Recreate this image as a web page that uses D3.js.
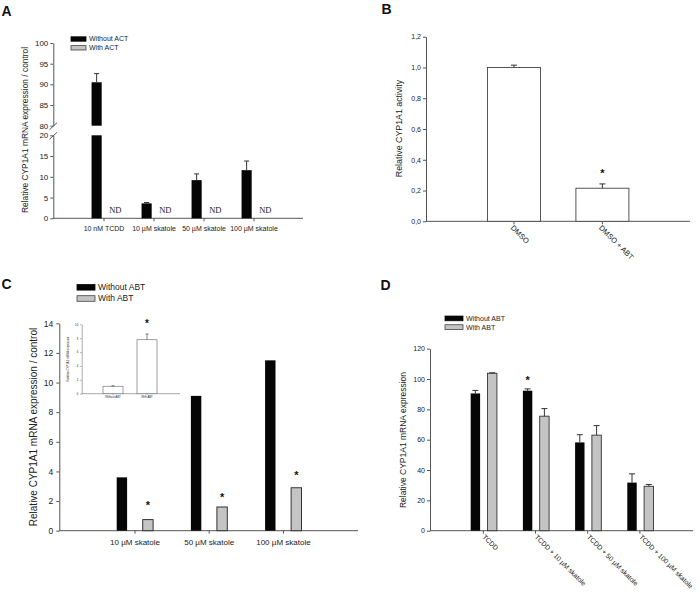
<!DOCTYPE html>
<html><head><meta charset="utf-8">
<script src="https://cdn.jsdelivr.net/npm/d3@7/dist/d3.min.js"></script>
<style>body{margin:0;background:#fff}</style>
</head><body>
<svg id="fig" width="700" height="597"></svg>
<script>
// ---------------- DATA ----------------
// Panel A
const aCategories = ["10 nM TCDD", "10 µM skatole", "50 µM skatole", "100 µM skatole"];
const aSeries = ["Without ACT", "With ACT"];
const aWithout = [90.5, 3.6, 9.2, 11.6];
const aWithoutErr = [2.1, 0.2, 1.5, 2.2];
const aWithLabel = ["ND", "ND", "ND", "ND"];
const aTicksLow = [0, 5, 10, 15, 20];
const aTicksHigh = [80, 85, 90, 95, 100];
// Panel B
const bCategories = ["DMSO", "DMSO + ABT"];
const bValues = [1.0, 0.215];
const bErr = [0.015, 0.028];
const bSig = [false, true];
const bTicks = [0, 0.2, 0.4, 0.6, 0.8, 1.0, 1.2];
// Panel C
const cCategories = ["10 µM skatole", "50 µM skatole", "100 µM skatole"];
const cSeries = ["Without ABT", "With ABT"];
const cWithout = [3.6, 9.1, 11.5];
const cWith = [0.75, 1.6, 2.9];
const cStarAt = [1.9, 2.4, 3.9];
const cTicks = [0, 2, 4, 6, 8, 10, 12, 14];
// Panel C inset
const iCategories = ["Without ABT", "With ABT"];
const iValues = [1.07, 7.78];
const iErr = [0.08, 0.82];
const iSig = [false, true];
const iTicks = [0, 2, 4, 6, 8, 10];
// Panel D
const dCategories = ["TCDD", "TCDD + 10 µM skatole", "TCDD + 50 µM skatole", "TCDD + 100 µM skatole"];
const dSeries = ["Without ABT", "With ABT"];
const dWithout = [90.5, 92.3, 58.2, 31.7];
const dWithoutErr = [2.0, 1.2, 5.1, 5.8];
const dWith = [103.8, 75.5, 63.0, 29.3];
const dWithErr = [0.3, 5.0, 6.3, 1.2];
const dWithoutSig = [false, true, false, false];
const dTicks = [0, 20, 40, 60, 80, 100, 120];

// ---------------- STYLE ----------------
const FONT = '"Liberation Sans", Arial, Helvetica, sans-serif';
const AXIS = "#555";
const TEXT = "#222";
const BLACK = "#050505";
const GREY = "#c4c4c4";

const svg = d3.select("#fig");
svg.append("rect").attr("width", 700).attr("height", 597).attr("fill", "#fff");

function styleAxis(g, fs, sw) {
  g.selectAll("path, line").attr("stroke", AXIS).attr("stroke-width", sw || 1);
  g.selectAll("text").attr("font-family", FONT).attr("font-size", fs).attr("fill", TEXT);
}
function panelLabel(t, x, y) {
  svg.append("text").attr("x", x).attr("y", y).text(t)
    .attr("font-family", FONT).attr("font-weight", "bold").attr("font-size", 14).attr("fill", "#111");
}
function yLabel(g, t, x, y, fs) {
  g.append("text").attr("transform", `translate(${x},${y}) rotate(-90)`)
    .attr("text-anchor", "middle").attr("dy", "0.35em").text(t)
    .attr("font-family", FONT).attr("font-size", fs).attr("fill", TEXT);
}
function errBar(g, x, y0, y1, half, sw) {
  g.append("line").attr("x1", x).attr("x2", x).attr("y1", y0).attr("y2", y1).attr("stroke", "#333").attr("stroke-width", sw || 1);
  g.append("line").attr("x1", x - half).attr("x2", x + half).attr("y1", y1).attr("y2", y1).attr("stroke", "#333").attr("stroke-width", sw || 1);
}
function star(g, x, cy, fs) {
  g.append("text").attr("x", x).attr("y", cy + fs * 0.57).attr("text-anchor", "middle").text("*")
    .attr("font-family", FONT).attr("font-weight", "bold").attr("font-size", fs).attr("fill", "#111");
}
function legend(g, x, y, gap, w, h, labels, fs) {
  labels.forEach((lab, i) => {
    g.append("rect").attr("x", x).attr("y", y + i * gap - h / 2).attr("width", w).attr("height", h)
      .attr("fill", i === 0 ? BLACK : GREY).attr("stroke", i === 0 ? BLACK : "#444").attr("stroke-width", 0.8);
    g.append("text").attr("x", x + w + 3).attr("y", y + i * gap).attr("dy", "0.35em").text(lab)
      .attr("font-family", FONT).attr("font-size", fs).attr("fill", TEXT);
  });
}

// ---------------- PANEL A ----------------
panelLabel("A", 1.5, 16);
const gA = svg.append("g");
const aX = d3.scaleBand().domain(aCategories).range([79, 279]);
const aSub = d3.scaleBand().domain(aSeries).range([-13, 17]).paddingInner(0.4);
const aYLow = d3.scaleLinear().domain([0, 20]).range([218.3, 135.3]);
const aYHigh = d3.scaleLinear().domain([80, 100]).range([125.7, 43]);
const aBase = aYLow(0);

const axALow = gA.append("g").attr("transform", "translate(53.3,0)")
  .call(d3.axisLeft(aYLow).tickValues(aTicksLow).tickSize(3).tickPadding(2).tickSizeOuter(0));
styleAxis(axALow, 8);
const axAHigh = gA.append("g").attr("transform", "translate(53.3,0)")
  .call(d3.axisLeft(aYHigh).tickValues(aTicksHigh).tickSize(3).tickPadding(2).tickSizeOuter(0));
styleAxis(axAHigh, 8);
// break marks
[[aYHigh(80) + 4, aYHigh(80) - 3], [aYLow(20) + 4, aYLow(20) - 3]].forEach(([ya, yb]) => {
  gA.append("line").attr("x1", 49.5).attr("x2", 57).attr("y1", ya).attr("y2", yb).attr("stroke", AXIS);
});
gA.append("line").attr("x1", 53.3).attr("x2", 303).attr("y1", aBase).attr("y2", aBase).attr("stroke", AXIS);
const axAX = gA.append("g").attr("transform", `translate(0,${aBase})`)
  .call(d3.axisBottom(aX).tickSize(3).tickPadding(5).tickSizeOuter(0));
axAX.select(".domain").remove();
styleAxis(axAX, 7);
const aBw = aSub.bandwidth() * 0.9;
aCategories.forEach((c, i) => {
  const cx = aX(c) + aX.bandwidth() / 2;
  const bx = cx + aSub(aSeries[0]) + aSub.bandwidth() / 2;
  const v = aWithout[i];
  gA.append("rect").attr("x", bx - aBw / 2).attr("width", aBw)
    .attr("y", aYLow(Math.min(v, 20))).attr("height", aBase - aYLow(Math.min(v, 20))).attr("fill", BLACK);
  if (v > 80) {
    gA.append("rect").attr("x", bx - aBw / 2).attr("width", aBw)
      .attr("y", aYHigh(v)).attr("height", aYHigh(80) - aYHigh(v)).attr("fill", BLACK);
    errBar(gA, bx, aYHigh(v), aYHigh(v + aWithoutErr[i]), 2.5);
  } else {
    errBar(gA, bx, aYLow(v), aYLow(v + aWithoutErr[i]), 2.5);
  }
  const nx = cx + aSub(aSeries[1]) + aSub.bandwidth() / 2;
  gA.append("text").attr("x", nx).attr("y", aYLow(2.0)).attr("dy", "0.35em").attr("text-anchor", "middle")
    .text(aWithLabel[i]).attr("font-family", '"Liberation Serif", "Times New Roman", serif')
    .attr("font-size", 8.5).attr("fill", TEXT);
});
yLabel(gA, "Relative CYP1A1 mRNA expression / control", 25, 130, 8.4);
legend(gA, 71, 39, 8.8, 15, 4.4, aSeries, 7);

// ---------------- PANEL B ----------------
panelLabel("B", 381.5, 14);
const gB = svg.append("g");
const bX = d3.scaleBand().domain(bCategories).range([469.8, 646.6]);
const bY = d3.scaleLinear().domain([0, 1.2]).range([221.3, 36.7]);
const axBY = gB.append("g").attr("transform", "translate(426,0)")
  .call(d3.axisLeft(bY).tickValues(bTicks).tickSize(3).tickPadding(2).tickSizeOuter(0)
    .tickFormat(d => d3.format(".1f")(d).replace(".", ",")));
styleAxis(axBY, 7);
gB.append("line").attr("x1", 426).attr("x2", 690).attr("y1", bY(0)).attr("y2", bY(0)).attr("stroke", AXIS);
const axBX = gB.append("g").attr("transform", `translate(0,${bY(0)})`)
  .call(d3.axisBottom(bX).tickSize(3).tickFormat(""));
axBX.select(".domain").remove();
styleAxis(axBX, 7);
const bBw = 53;
bCategories.forEach((c, i) => {
  const cx = bX(c) + bX.bandwidth() / 2;
  gB.append("rect").attr("x", cx - bBw / 2).attr("width", bBw).attr("y", bY(bValues[i]))
    .attr("height", bY(0) - bY(bValues[i])).attr("fill", "#fff").attr("stroke", "#444").attr("stroke-width", 0.9);
  errBar(gB, cx, bY(bValues[i]), bY(bValues[i] + bErr[i]), 3);
  if (bSig[i]) star(gB, cx, bY(bValues[i] + bErr[i]) - 13, 11);
  gB.append("text").attr("transform", `translate(${cx - 2},${bY(0) + 5}) rotate(45)`)
    .attr("dy", "0.35em").text(c).attr("font-family", FONT).attr("font-size", 7.5).attr("fill", TEXT);
});
yLabel(gB, "Relative CYP1A1 activity", 399, 128.5, 8.8);

// ---------------- PANEL C ----------------
panelLabel("C", 1.5, 288.5);
const gC = svg.append("g");
const cX = d3.scaleBand().domain(cCategories).range([97.9, 320.5]);
const cSub = d3.scaleBand().domain(cSeries).range([-18.3, 18.1]).paddingInner(0.6);
const cY = d3.scaleLinear().domain([0, 14]).range([530.7, 323.3]);
const axCY = gC.append("g").attr("transform", "translate(59.3,0)")
  .call(d3.axisLeft(cY).tickValues(cTicks).tickSize(3).tickPadding(3).tickSizeOuter(0));
styleAxis(axCY, 8.5);
gC.append("line").attr("x1", 59.3).attr("x2", 358).attr("y1", cY(0)).attr("y2", cY(0)).attr("stroke", AXIS);
const axCX = gC.append("g").attr("transform", `translate(0,${cY(0)})`)
  .call(d3.axisBottom(cX).tickSize(3).tickPadding(6).tickSizeOuter(0));
axCX.select(".domain").remove();
styleAxis(axCX, 8);
cCategories.forEach((c, i) => {
  const cx = cX(c) + cX.bandwidth() / 2;
  const w = cSub.bandwidth();
  const x0 = cx + cSub(cSeries[0]);
  const x1 = cx + cSub(cSeries[1]);
  gC.append("rect").attr("x", x0).attr("width", w).attr("y", cY(cWithout[i]))
    .attr("height", cY(0) - cY(cWithout[i])).attr("fill", BLACK);
  gC.append("rect").attr("x", x1).attr("width", w).attr("y", cY(cWith[i]))
    .attr("height", cY(0) - cY(cWith[i])).attr("fill", GREY).attr("stroke", "#333").attr("stroke-width", 1);
  star(gC, x1 + w / 2, cY(cStarAt[i]), 11);
});
yLabel(gC, "Relative CYP1A1 mRNA expression / control", 33, 427, 10);
legend(gC, 77, 287.3, 11.2, 18, 5.6, cSeries, 8.5);

// inset
const gI = svg.append("g");
const iX = d3.scaleBand().domain(iCategories).range([96, 164]);
const iY = d3.scaleLinear().domain([0, 10]).range([393.7, 324.3]);
const axIY = gI.append("g").attr("transform", "translate(81.7,0)")
  .call(d3.axisLeft(iY).tickValues(iTicks).tickSize(1.5).tickPadding(2).tickSizeOuter(0));
styleAxis(axIY, 2.8, 0.5);
gI.append("line").attr("x1", 81.7).attr("x2", 180).attr("y1", iY(0)).attr("y2", iY(0)).attr("stroke", AXIS).attr("stroke-width", 0.5);
const axIX = gI.append("g").attr("transform", `translate(0,${iY(0)})`)
  .call(d3.axisBottom(iX).tickSize(1.5).tickPadding(1).tickSizeOuter(0));
axIX.select(".domain").remove();
styleAxis(axIX, 2.8, 0.5);
iCategories.forEach((c, i) => {
  const cx = iX(c) + iX.bandwidth() / 2;
  gI.append("rect").attr("x", cx - 10).attr("width", 20).attr("y", iY(iValues[i]))
    .attr("height", iY(0) - iY(iValues[i])).attr("fill", "#fff").attr("stroke", "#777").attr("stroke-width", 0.7);
  errBar(gI, cx, iY(iValues[i]), iY(iValues[i] + iErr[i]), 1.5, 0.6);
  if (iSig[i]) star(gI, cx, iY(iValues[i] + iErr[i]) - 12.3, 10);
});
yLabel(gI, "Relative CYP1A1 mRNA expression", 68.5, 359, 2.8);

// ---------------- PANEL D ----------------
panelLabel("D", 380.5, 290);
const gD = svg.append("g");
const dX = d3.scaleBand().domain(dCategories).range([457.2, 666.0]);
const dSub = d3.scaleBand().domain(dSeries).range([-12.6, 13.6]).paddingInner(0.44);
const dY = d3.scaleLinear().domain([0, 120]).range([530.7, 348.7]);
const axDY = gD.append("g").attr("transform", "translate(430,0)")
  .call(d3.axisLeft(dY).tickValues(dTicks).tickSize(3).tickPadding(2).tickSizeOuter(0));
styleAxis(axDY, 7);
gD.append("line").attr("x1", 430).attr("x2", 693).attr("y1", dY(0)).attr("y2", dY(0)).attr("stroke", AXIS);
const axDX = gD.append("g").attr("transform", `translate(0,${dY(0)})`)
  .call(d3.axisBottom(dX).tickSize(3).tickFormat(""));
axDX.select(".domain").remove();
styleAxis(axDX, 7);
dCategories.forEach((c, i) => {
  const cx = dX(c) + dX.bandwidth() / 2;
  const w = dSub.bandwidth();
  const x0 = cx + dSub(dSeries[0]);
  const x1 = cx + dSub(dSeries[1]);
  gD.append("rect").attr("x", x0).attr("width", w).attr("y", dY(dWithout[i]))
    .attr("height", dY(0) - dY(dWithout[i])).attr("fill", BLACK);
  errBar(gD, x0 + w / 2, dY(dWithout[i]), dY(dWithout[i] + dWithoutErr[i]), 3);
  gD.append("rect").attr("x", x1).attr("width", w).attr("y", dY(dWith[i]))
    .attr("height", dY(0) - dY(dWith[i])).attr("fill", GREY).attr("stroke", "#333").attr("stroke-width", 0.9);
  errBar(gD, x1 + w / 2, dY(dWith[i]), dY(dWith[i] + dWithErr[i]), 3);
  if (dWithoutSig[i]) star(gD, x0 + w / 2, dY(dWithout[i] + dWithoutErr[i]) - 11.6, 11);
  gD.append("text").attr("transform", `translate(${cx + 0.5},${dY(0) + 5}) rotate(45)`)
    .attr("dy", "0.35em").text(c).attr("font-family", FONT).attr("font-size", 6.8).attr("fill", TEXT);
});
yLabel(gD, "Relative CYP1A1 mRNA expression", 402.7, 440, 8.5);
legend(gD, 445, 318.4, 8.7, 18, 4.7, dSeries, 7);
</script>
</body></html>
